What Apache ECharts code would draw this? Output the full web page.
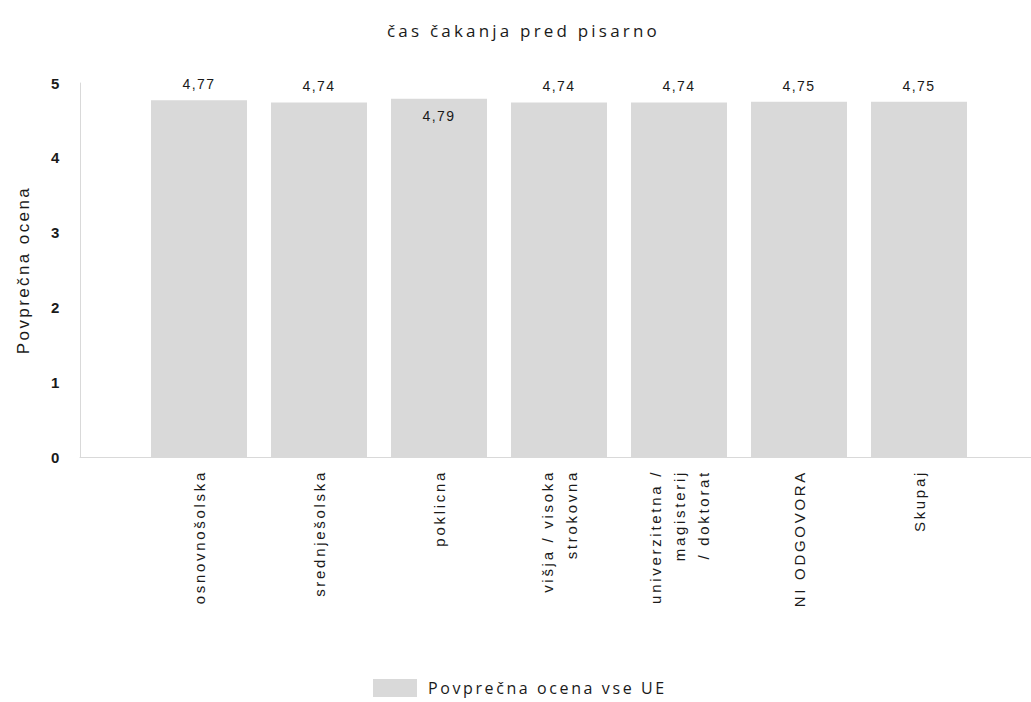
<!DOCTYPE html>
<html>
<head>
<meta charset="utf-8">
<script src="https://cdn.jsdelivr.net/npm/echarts@6/dist/echarts.min.js"></script>
<style>
html,body{margin:0;padding:0;background:#fff;}
#c{width:1031px;height:702px;}
/* wide glyph spacing of the reference rendering */
#c text[style*="Open Sans"][style*="17px"]{letter-spacing:3.2px;}
#c text[style*="Open Sans"][style*="16px"]{letter-spacing:2.6px;}
#c text[style*="Liberation Sans"][style*="15px"]{letter-spacing:2.7px;}
#c text[style*="Liberation Sans"][style*="14px"]{letter-spacing:1.5px;}
#c text[style*="Liberation Sans"][style*="17px"]{letter-spacing:2.4px;}
#c text[style*="bold"]{letter-spacing:0;}
</style>
</head>
<body>
<div id="c"></div>
<script>
const titleText = 'čas čakanja pred pisarno';
const seriesName = 'Povprečna ocena vse UE';
const yAxisName = 'Povprečna ocena';
const categories = ['osnovnošolska', 'srednješolska', 'poklicna', 'višja / visoka\nstrokovna', 'univerzitetna /\nmagisterij\n/ doktorat', 'NI ODGOVORA', 'Skupaj'];
const values = [4.77, 4.74, 4.79, 4.74, 4.74, 4.75, 4.75];
const labelInside = [false, false, true, false, false, false, false];

const chart = echarts.init(document.getElementById('c'), null, {renderer: 'svg'});
const fmt = p => p.value.toFixed(2).replace('.', ',');
chart.setOption({
  animation: false,
  backgroundColor: '#fff',
  title: {
    text: titleText, left: 382, top: 17,
    textStyle: {fontFamily: 'Open Sans', fontSize: 17, fontWeight: 'normal', color: '#1a1a1a'}
  },
  legend: {
    data: [seriesName], left: 368, top: 674, itemWidth: 44, itemHeight: 18, icon: 'rect',
    textStyle: {fontFamily: 'Open Sans', fontSize: 16, color: '#1a1a1a', padding: [0, 0, 0, 6]}
  },
  grid: [
    {left: 80, right: 0, top: 83, bottom: 245},
    {left: 139, right: 52, top: 83, bottom: 245}
  ],
  xAxis: [
    {gridIndex: 0, type: 'value', min: 0, max: 1, axisLine: {show: true, lineStyle: {color: '#d9d9d9', width: 1}},
     axisTick: {show: false}, axisLabel: {show: false}, splitLine: {show: false}},
    {gridIndex: 1, type: 'category', data: categories, axisLine: {show: false}, axisTick: {show: false},
     axisLabel: {rotate: 90, margin: 13, interval: 0, fontFamily: 'Liberation Sans', fontSize: 15, color: '#1a1a1a', lineHeight: 24}}
  ],
  yAxis: [
    {gridIndex: 0, type: 'value', min: 0, max: 5, interval: 1,
     name: yAxisName, nameLocation: 'middle', nameGap: 48, nameRotate: 90,
     nameTextStyle: {fontFamily: 'Liberation Sans', fontSize: 17, color: '#1a1a1a'},
     axisLine: {show: true, lineStyle: {color: '#d9d9d9', width: 1}}, axisTick: {show: false},
     axisLabel: {margin: 18, fontFamily: 'Liberation Sans', fontSize: 15, fontWeight: 'bold', color: '#1a1a1a'},
     splitLine: {show: false}},
    {gridIndex: 1, type: 'value', min: 0, max: 5, show: false, splitLine: {show: false}}
  ],
  series: [{
    name: seriesName, type: 'bar', xAxisIndex: 1, yAxisIndex: 1,
    barCategoryGap: '20%',
    itemStyle: {color: '#d9d9d9'},
    label: {show: true, position: 'top', distance: 9, formatter: fmt,
            fontFamily: 'Liberation Sans', fontSize: 14, color: '#1a1a1a'},
    data: values.map((v, i) => labelInside[i]
      ? {value: v, label: {position: 'insideTop', distance: 10}}
      : v)
  }]
});
</script>
</body>
</html>
